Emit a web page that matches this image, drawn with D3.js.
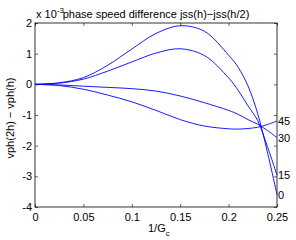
<!DOCTYPE html>
<html>
<head>
<meta charset="utf-8">
<script src="https://cdn.jsdelivr.net/npm/d3@7"></script>
<style>
  body { margin: 0; background: #fff; }
  svg { display: block; font-family: "Liberation Sans", Arial, sans-serif; }
</style>
</head>
<body>
<svg width="296" height="240"></svg>
<script>
// values (units of 1e-3)
var xs = [0, 0.025, 0.05, 0.075, 0.1, 0.125, 0.15, 0.175, 0.2, 0.21, 0.22, 0.23, 0.24, 0.25];
var s0 = [0, 0.05, 0.22, 0.62, 1.15, 1.66, 1.91, 1.73, 0.95, 0.55, -0.05, -0.95, -2.2, -3.6];
var s15 = [0, 0.04, 0.17, 0.43, 0.73, 1.02, 1.16, 0.94, 0.21, -0.2, -0.7, -1.18, -2.02, -2.96];
var s30 = [0, -0.02, -0.06, -0.1, -0.14, -0.22, -0.38, -0.6, -0.85, -0.98, -1.15, -1.3, -1.5, -1.74];
var s45 = [0, -0.04, -0.16, -0.35, -0.57, -0.85, -1.15, -1.36, -1.45, -1.46, -1.44, -1.4, -1.31, -1.2];
var seriesNames = ["0", "15", "30", "45"];

var xTicks = [0, 0.05, 0.1, 0.15, 0.2, 0.25];
var xTickLabels = ["0", "0.05", "0.1", "0.15", "0.2", "0.25"];
var yTicks = [-4, -3, -2, -1, 0, 1, 2];
var yTickLabels = ["-4", "-3", "-2", "-1", "0", "1", "2"];

window.onload = function () {
    var svg = d3.select("svg");

    // plot box (note: "top" is taken by window, hence the names)
    var padL = 35, padR = 277, padT = 23, padB = 207;

    var x = d3.scaleLinear().domain([0, 0.25]).range([padL, padR]);
    var y = d3.scaleLinear().domain([-4, 2]).range([padB, padT]);

    // matlab-ish box with inward ticks on all sides
    function styleAxis(g) {
        g.select(".domain").remove();
        g.selectAll("line").attr("stroke", "#000").attr("stroke-width", 0.6);
        g.selectAll("text").attr("font-size", "11px").attr("fill", "#000")
            .attr("font-family", "Liberation Sans, Arial, sans-serif");
    }

    svg.append("g")
        .attr("transform", "translate(0," + padB + ")")
        .call(d3.axisBottom(x).tickValues(xTicks).tickSize(-3).tickPadding(6)
            .tickFormat(function (d, i) { return xTickLabels[i]; }))
        .call(styleAxis);

    svg.append("g")
        .attr("transform", "translate(0," + padT + ")")
        .call(d3.axisTop(x).tickValues(xTicks).tickSize(-3).tickFormat(""))
        .call(styleAxis);

    svg.append("g")
        .attr("transform", "translate(" + padL + ",0)")
        .call(d3.axisLeft(y).tickValues(yTicks).tickSize(-3).tickPadding(3)
            .tickFormat(function (d, i) { return yTickLabels[i]; }))
        .call(styleAxis);

    svg.append("g")
        .attr("transform", "translate(" + padR + ",0)")
        .call(d3.axisRight(y).tickValues(yTicks).tickSize(-3).tickFormat(""))
        .call(styleAxis);

    svg.append("rect")
        .attr("x", padL).attr("y", padT)
        .attr("width", padR - padL).attr("height", padB - padT)
        .attr("fill", "none")
        .attr("stroke", "#000")
        .attr("stroke-width", 0.8);

    var line = d3.line()
        .x(function (d) { return x(d[0]); })
        .y(function (d) { return y(d[1]); })
        .curve(d3.curveCatmullRom.alpha(0.5));

    var allSeries = [s0, s15, s30, s45];

    allSeries.forEach(function (s, i) {
        var pts = xs.map(function (v, j) { return [v, s[j]]; });
        svg.append("path")
            .datum(pts)
            .attr("fill", "none")
            .attr("stroke", "#0000ff")
            .attr("stroke-width", 0.9)
            .attr("d", line);

        svg.append("text")
            .attr("x", x(0.25) + 1)
            .attr("y", y(s[s.length - 1]))
            .attr("dy", "0.35em")
            .attr("font-size", "11px")
            .text(seriesNames[i]);
    });

    // title with the exponent on the left
    var expo = svg.append("text")
        .attr("x", 36).attr("y", 18)
        .attr("font-size", "11px");
    expo.append("tspan").text("x 10");
    expo.append("tspan").attr("font-size", "8px").attr("dy", -5).text("-3");

    svg.append("text")
        .attr("x", (padL + padR) / 2)
        .attr("y", 18)
        .attr("text-anchor", "middle")
        .attr("font-size", "11px")
        .text("phase speed difference jss(h)\u2212jss(h/2)");

    // axis labels
    var xl = svg.append("text")
        .attr("x", 148).attr("y", 232)
        .attr("font-size", "11px");
    xl.append("tspan").text("1/G");
    xl.append("tspan").attr("font-size", "8px").attr("dy", 4).text("c");

    svg.append("text")
        .attr("transform", "translate(14," + ((padT + padB) / 2 + 3) + ") rotate(-90)")
        .attr("text-anchor", "middle")
        .attr("font-size", "11px")
        .text("vph(2h) \u2212 vph(h)");
};
</script>
</body>
</html>
